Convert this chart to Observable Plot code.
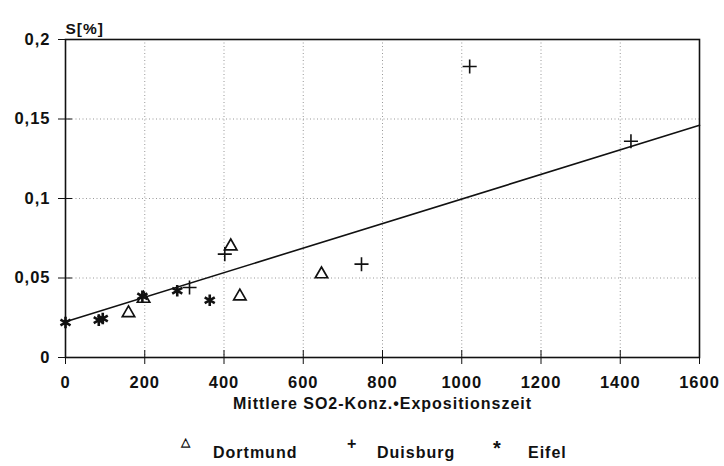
<!DOCTYPE html>
<html>
<head>
<meta charset="utf-8">
<script src="https://cdn.jsdelivr.net/npm/d3@7"></script>
<script src="https://cdn.jsdelivr.net/npm/@observablehq/plot@0.6"></script>
<style>
  html, body { margin: 0; padding: 0; background: #fff; }
  body { width: 724px; height: 466px; overflow: hidden; font-family: "Liberation Sans", Arial, sans-serif; }
  #chart svg text { letter-spacing: 1px; }
  #legend { position: relative; height: 46px; font-weight: bold; font-size: 16px; color: #111; letter-spacing: 1px; }
  #legend span { position: absolute; white-space: nowrap; }
</style>
</head>
<body>
<div id="chart"></div>
<div id="legend"></div>
<script>
// ---- data ----
const seriesNames = ["Dortmund", "Duisburg", "Eifel"];

const dortmundX = [159, 197, 417, 440, 646];
const dortmundY = [0.028, 0.037, 0.070, 0.0385, 0.0524];

const duisburgX = [313, 402, 747, 1020, 1427];
const duisburgY = [0.044, 0.065, 0.0587, 0.183, 0.136];

const eifelX = [0, 84, 94, 194, 282, 364];
const eifelY = [0.022, 0.0235, 0.0245, 0.0385, 0.042, 0.036];

// regression line end points
const fitX = [0, 1600];
const fitY = [0.0225, 0.146];

const xTicks = [0, 200, 400, 600, 800, 1000, 1200, 1400, 1600];
const xTickLabels = ["0", "200", "400", "600", "800", "1000", "1200", "1400", "1600"];
const yTicks = [0, 0.05, 0.1, 0.15, 0.2];
const yTickLabels = ["0", "0,05", "0,1", "0,15", "0,2"];
const xGrid = [200, 400, 600, 800, 1000, 1200, 1400];
const yGrid = [0.05, 0.1, 0.15];

const xTitle = "Mittlere SO2-Konz.•Expositionszeit";
const yTitle = "S[%]";

// ---- build tables ----
const toRows = (xs, ys) => xs.map((x, i) => ({x, y: ys[i]}));
const dortmund = toRows(dortmundX, dortmundY);
const duisburg = toRows(duisburgX, duisburgY);
const eifel = toRows(eifelX, eifelY);
const fit = toRows(fitX, fitY);

const chart = Plot.plot({
  width: 724,
  height: 420,
  marginLeft: 65,
  marginRight: 25,
  marginTop: 39,
  marginBottom: 63,
  style: {fontFamily: "Liberation Sans, Arial, sans-serif", fontSize: "16.5px", fontWeight: "bold", color: "#111", background: "#fff"},
  x: {domain: [0, 1600]},
  y: {domain: [0, 0.2]},
  marks: [
    Plot.gridX(xGrid, {stroke: "#555", strokeOpacity: 0.6, strokeDasharray: "1,2.5"}),
    Plot.gridY(yGrid, {stroke: "#555", strokeOpacity: 0.6, strokeDasharray: "1,2.5"}),
    Plot.frame({stroke: "#111", strokeWidth: 1.6}),
    Plot.axisX(xTicks, {tickSize: 14, dy: -7, tickPadding: 12, tickFormat: (d, i) => xTickLabels[i], label: null, stroke: "#111"}),
    Plot.axisY(yTicks, {tickSize: 14, dx: 7, tickPadding: 8, tickFormat: (d, i) => yTickLabels[i], label: null, stroke: "#111"}),
    Plot.line(fit, {x: "x", y: "y", stroke: "#111", strokeWidth: 1.6}),
    Plot.dot(dortmund, {x: "x", y: "y", symbol: "triangle", r: 4.6, fill: "none", stroke: "#111", strokeWidth: 1.7}),
    Plot.dot(duisburg, {x: "x", y: "y", symbol: "plus", r: 4.6, fill: "none", stroke: "#111", strokeWidth: 1.6}),
    Plot.dot(eifel, {x: "x", y: "y", symbol: "asterisk", r: 5.5, fill: "none", stroke: "#111", strokeWidth: 2.6}),
    Plot.text([yTitle], {frameAnchor: "top-left", dy: -17, textAnchor: "start", fontSize: 15.5, fontWeight: "bold"}),
    Plot.text([xTitle], {frameAnchor: "bottom", dy: 51, fontSize: 16, fontWeight: "bold"})
  ]
});
document.getElementById("chart").appendChild(chart);
d3.select(chart).selectAll("text")
  .filter(function() { return this.textContent === xTitle; })
  .attr("letter-spacing", "2.2px");

// ---- legend ----
const symbols = ["△", "+", "*"];
const symX = [181, 347, 493];
const textX = [213, 377, 528];
const legend = document.getElementById("legend");
seriesNames.forEach((name, i) => {
  const s = document.createElement("span");
  s.textContent = symbols[i];
  s.style.left = symX[i] + "px";
  s.style.top = (i === 2 ? 17 : 15) + "px";
  s.style.fontSize = i === 0 ? "12px" : (i === 2 ? "20px" : "16px");
  legend.appendChild(s);
  const t = document.createElement("span");
  t.textContent = name;
  t.style.left = textX[i] + "px";
  t.style.top = "24px";
  legend.appendChild(t);
});
</script>
</body>
</html>
